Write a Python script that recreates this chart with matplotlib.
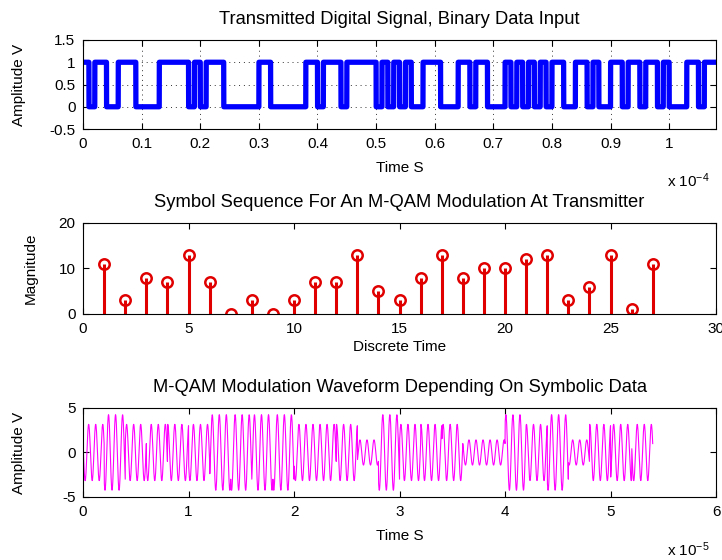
import numpy as np
import matplotlib
matplotlib.use('Agg')
import matplotlib.pyplot as plt
from matplotlib.ticker import FuncFormatter

# 16-QAM symbols (decimal) sent by the transmitter
symbols = [11, 3, 8, 7, 13, 7, 0, 3, 0, 3, 7, 7, 13, 5, 3, 8, 13, 8, 10, 10,
           12, 13, 3, 6, 13, 1, 11]

# binary input stream, 4 bits per symbol (MSB first)
bits = [1, 0, 1, 1,  0, 0, 1, 1,  1, 0, 0, 0,  0, 1, 1, 1,  1, 1, 0, 1,
        0, 1, 1, 1,  0, 0, 0, 0,  0, 0, 1, 1,  0, 0, 0, 0,  0, 0, 1, 1,
        0, 1, 1, 1,  0, 1, 1, 1,  1, 1, 0, 1,  0, 1, 0, 1,  0, 0, 1, 1,
        1, 0, 0, 0,  1, 1, 0, 1,  1, 0, 0, 0,  1, 0, 1, 0,  1, 0, 1, 0,
        1, 1, 0, 0,  1, 1, 0, 1,  0, 0, 1, 1,  0, 1, 1, 0,  1, 1, 0, 1,
        0, 0, 0, 1,  1, 0, 1, 1]

# constellation points for each symbol (in-phase / quadrature)
in_phase = [1, -3, 1, -1, 3, -1, -3, -3, -3, -3, -1, -1, 3, -1, -3, 1, 3, 1,
            1, 1, 3, 3, -3, -1, 3, -3, 1]
quadrature = [-3, -3, 3, -3, 1, -3, 3, -3, 3, -3, -3, -3, 1, 1, -3, 3, 1, 3,
              -1, -1, 3, 1, -3, -1, 1, 1, -3]

bp = 1e-6          # bit period
sp = 2 * bp        # symbol period
fc = 3 / sp        # carrier frequency
ns = 100           # samples per bit / symbol

# sampled digital signal
bit_wave = np.repeat(bits, ns)
t1 = np.arange(1, len(bit_wave) + 1) * bp / ns

# QAM waveform
ts = np.arange(1, ns + 1) * sp / ns
qam = np.concatenate([i * np.cos(2 * np.pi * fc * ts) + q * np.sin(2 * np.pi * fc * ts)
                      for i, q in zip(in_phase, quadrature)])
tt = np.arange(1, len(qam) + 1) * sp / ns

plt.rcParams['font.family'] = ['Liberation Sans', 'DejaVu Sans']
plt.rcParams['font.size'] = 11
plt.rcParams['axes.unicode_minus'] = False
plt.rcParams['mathtext.default'] = 'regular'

fig = plt.figure(figsize=(7.22, 5.6), dpi=100)
ax1 = fig.add_axes([0.115, 0.7696, 0.8767, 0.159])
ax2 = fig.add_axes([0.115, 0.4393, 0.8767, 0.1625])
ax3 = fig.add_axes([0.115, 0.1125, 0.8767, 0.159])


def style(ax):
    ax.tick_params(direction='in', length=4.3, width=0.8, top=True, right=True, pad=5.5)
    for s in ax.spines.values():
        s.set_linewidth(0.8)


# binary data
ax1.plot(t1, bit_wave, color='#0000ff', lw=3.8)
ax1.set_xlim(0, bp * len(bits))
ax1.set_ylim(-0.5, 1.5)
ax1.set_xticks(np.arange(0, 1.05e-4, 1e-5))
ax1.set_yticks([-0.5, 0, 0.5, 1, 1.5])
ax1.xaxis.set_major_formatter(FuncFormatter(lambda v, p: f'{v * 1e4:.10g}'))
ax1.yaxis.set_major_formatter(FuncFormatter(lambda v, p: f'{v:g}'))
ax1.grid(True, ls=(0, (1, 4)), color='#333333', lw=0.7)
ax1.set_title('Transmitted Digital Signal, Binary Data Input', pad=11.5)
ax1.set_xlabel('Time S')
ax1.set_ylabel('Amplitude V')
ax1.xaxis.set_label_coords(0.5, -0.36)
ax1.yaxis.set_label_coords(-0.09, 0.5)
style(ax1)
fig.text(0.924, 0.666, 'x 10$^{-4}$')

# symbol sequence
n = np.arange(1, len(symbols) + 1)
ml, sl, bl = ax2.stem(n, symbols, linefmt='-', markerfmt='o', basefmt=' ')
plt.setp(sl, color='#e00000', lw=2.2)
plt.setp(ml, markerfacecolor='none', markeredgecolor='#e00000', markersize=7.5, markeredgewidth=1.8)
ax2.set_xlim(0, 30)
ax2.set_ylim(0, 20)
ax2.set_xticks(range(0, 31, 5))
ax2.set_yticks([0, 10, 20])
ax2.set_title('Symbol Sequence For An M-QAM Modulation At Transmitter', pad=11.5)
ax2.set_xlabel('Discrete Time')
ax2.set_ylabel('Magnitude')
ax2.xaxis.set_label_coords(0.5, -0.29)
ax2.yaxis.set_label_coords(-0.071, 0.5)
style(ax2)

# modulated waveform
ax3.plot(tt, qam, color='#ff00ff', lw=0.8)
ax3.set_xlim(0, 6e-5)
ax3.set_ylim(-5, 5)
ax3.set_xticks(np.arange(0, 6.5e-5, 1e-5))
ax3.set_yticks([-5, 0, 5])
ax3.xaxis.set_major_formatter(FuncFormatter(lambda v, p: f'{v * 1e5:.10g}'))
ax3.set_title('M-QAM Modulation Waveform Depending On Symbolic Data', pad=11.5)
ax3.set_xlabel('Time S')
ax3.set_ylabel('Amplitude V')
ax3.xaxis.set_label_coords(0.5, -0.36)
ax3.yaxis.set_label_coords(-0.09, 0.5)
style(ax3)
fig.text(0.924, 0.008, 'x 10$^{-5}$')

fig.savefig('out.png', dpi=100, facecolor='white')
